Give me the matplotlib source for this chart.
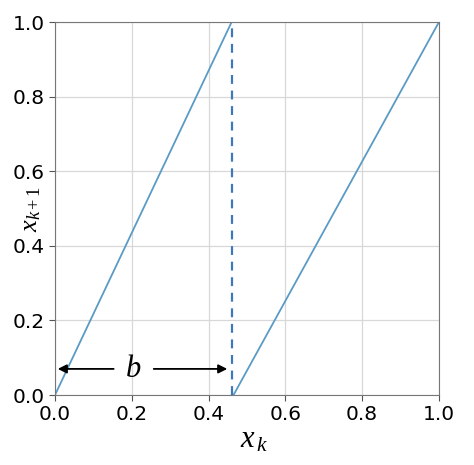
import matplotlib.pyplot as plt
import numpy as np

# Data
b = 0.46
left_x = [0.0, 0.46]
left_y = [0.0, 1.0]
right_x = [0.465, 1.0]
right_y = [0.0, 1.0]
dash_x = [0.46, 0.46]
dash_y = [0.0, 1.0]
ticks = [0.0, 0.2, 0.4, 0.6, 0.8, 1.0]

plt.rcParams['mathtext.fontset'] = 'custom'
plt.rcParams['mathtext.it'] = 'Liberation Serif:italic'
plt.rcParams['mathtext.rm'] = 'Liberation Serif'

fig = plt.figure(figsize=(4.74, 4.65), dpi=100)
ax = fig.add_axes([0.116, 0.1505, 0.810, 0.802])

line_color = '#5a9bc6'
ax.plot(left_x, left_y, color=line_color, lw=1.3)
ax.plot(right_x, right_y, color=line_color, lw=1.3)
ax.plot(dash_x, dash_y, color='#3f78b8', lw=1.6, ls='--', dashes=(4, 3))

# arrow showing b
ax.annotate('', xy=(0.0, 0.07), xytext=(0.16, 0.07),
            arrowprops=dict(arrowstyle='-|>', color='black', lw=1.3, mutation_scale=13))
ax.annotate('', xy=(b - 0.004, 0.07), xytext=(0.25, 0.07),
            arrowprops=dict(arrowstyle='-|>', color='black', lw=1.3, mutation_scale=13))
ax.text(0.203, 0.07, r'$b$', fontsize=22, ha='center', va='center')

ax.set_xlim(0, 1)
ax.set_ylim(0, 1)
ax.set_xticks(ticks)
ax.set_yticks(ticks)
ax.tick_params(labelsize=14.5, colors='black', length=4, color='#555555')
for s in ax.spines.values():
    s.set_color('#777777')
ax.grid(True, color='#d8d8d8', lw=0.9)

ax.set_xlabel(r'$x_{\,k}$', fontsize=22)
ax.xaxis.set_label_coords(0.52, -0.08)
ax.set_ylabel(r'$x_{\mathit{k+1}}$', fontsize=19)
ax.yaxis.set_label_coords(-0.03, 0.5)

plt.savefig('out.png', dpi=100)
